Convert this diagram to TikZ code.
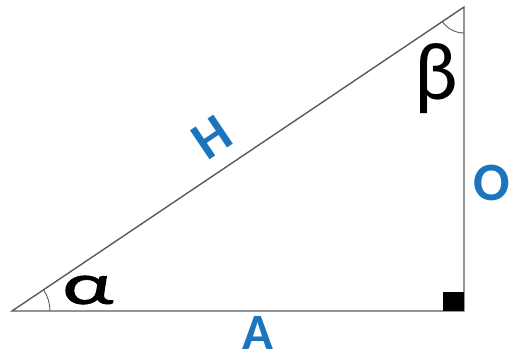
\documentclass[tikz,border=0pt]{standalone}
\usetikzlibrary{calc}
\usepackage{fontspec}
\setmainfont{Carlito}
\newfontfamily\alphafont{Carlito}[FakeBold=1.2]
\definecolor{lblblue}{RGB}{28,117,188}
\definecolor{edgegray}{RGB}{90,90,90}
\begin{document}
\begin{tikzpicture}[x=1pt,y=-1pt,
  side/.style={draw=edgegray,line width=1.4pt},
  anglearc/.style={draw=edgegray,line width=0.9pt},
  sidelabel/.style={text=lblblue,font=\fontsize{54}{54}\selectfont\bfseries,inner sep=0pt},
  greek/.style={text=black,inner sep=0pt}]
\useasboundingbox (0,0) rectangle (511,360);
\coordinate (P) at (12,311);
\coordinate (Q) at (464,311);
\coordinate (R) at (464,7);
\draw[side,line join=miter] (P) -- (Q) -- (R) -- cycle;
\fill[black] (443,292) rectangle (464,311);
% angle arcs
\draw[anglearc] ($(P)+(38,0)$) arc[start angle=0,end angle=-33.9,radius=38];
\draw[anglearc] ($(R)+(0,26)$) arc[start angle=90,end angle=146.1,radius=26];
\node[sidelabel,rotate=33.9] (H) at (212,137) {H};
\node[sidelabel,font=\fontsize{51}{51}\selectfont\bfseries] (A) at (258,333) {A};
\node[sidelabel] (O) at (492,183) {O};
\node[greek,font=\fontsize{58}{58}\alphafont\selectfont,xscale=1.55] (al) at (88,290) {α};
\node[greek,font=\fontsize{82}{82}\selectfont] (be) at (436,79) {β};
\end{tikzpicture}
\end{document}
